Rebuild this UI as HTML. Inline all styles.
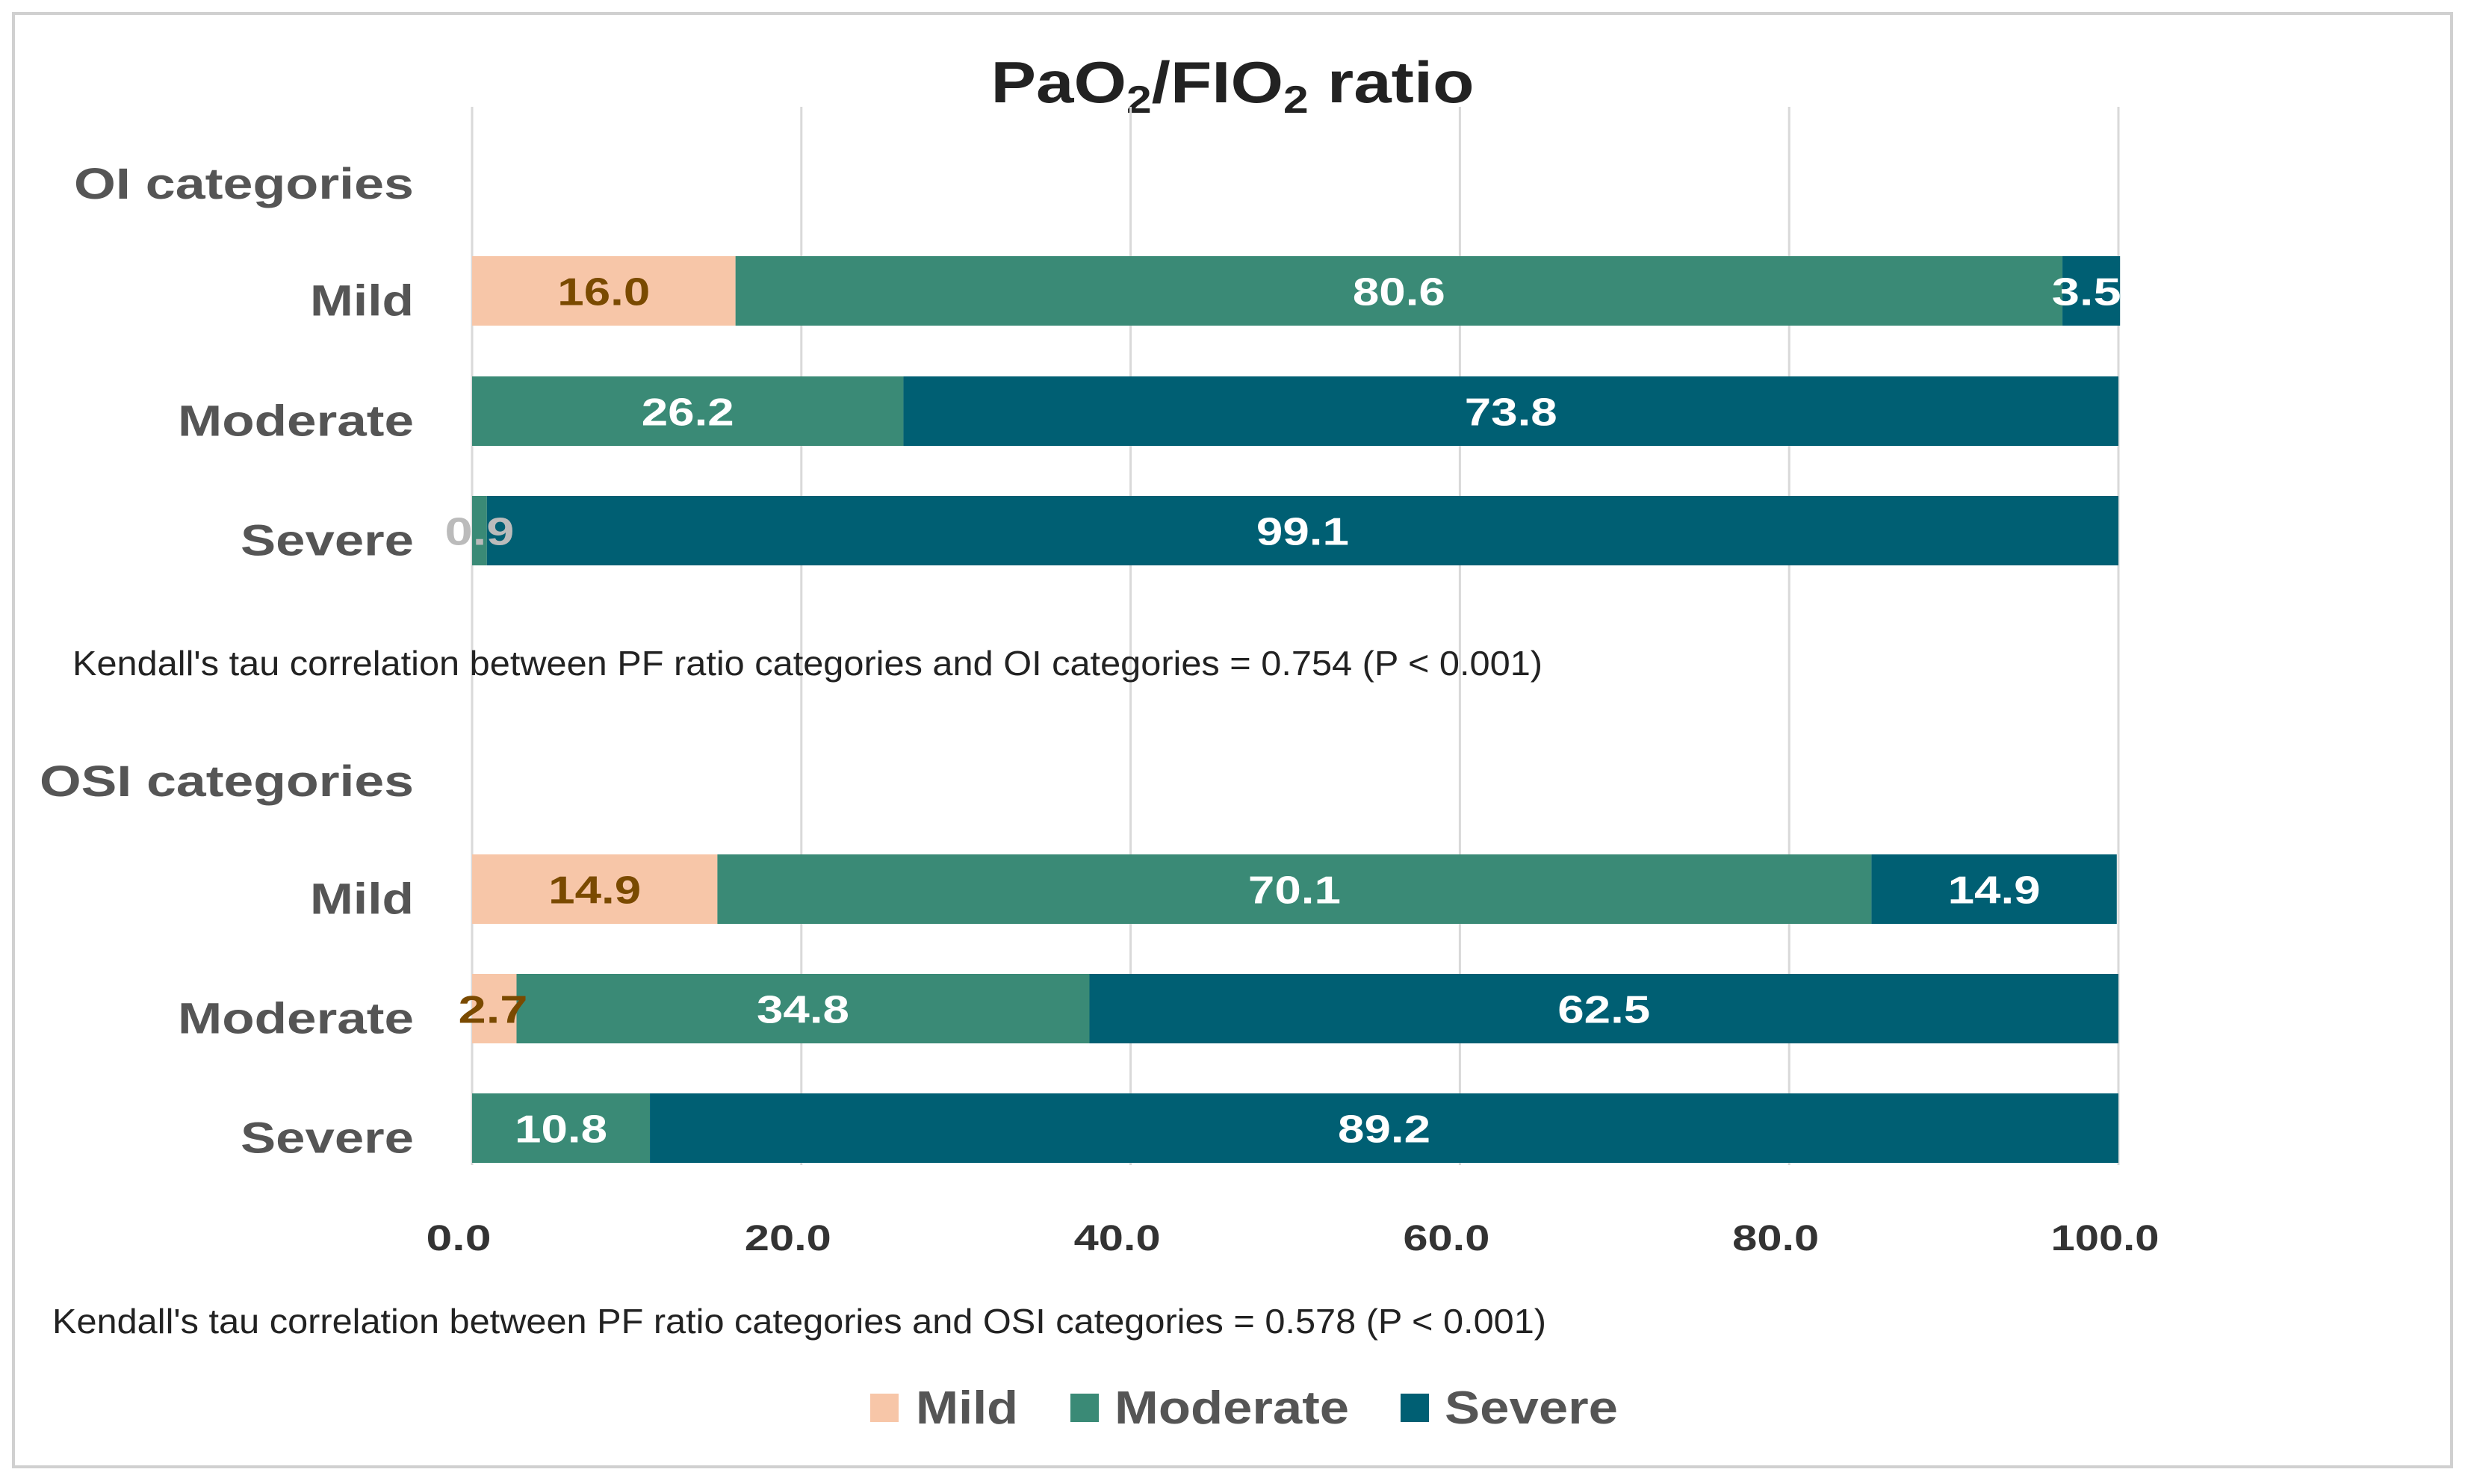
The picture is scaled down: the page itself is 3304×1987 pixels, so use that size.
<!DOCTYPE html>
<html><head><meta charset="utf-8"><style>
html,body{margin:0;padding:0;background:#fff;}
body{width:3304px;height:1982px;position:relative;overflow:hidden;font-family:"Liberation Sans",Arial,sans-serif;}
</style></head><body>
<svg id="chart" width="3304" height="1982" xmlns="http://www.w3.org/2000/svg" font-family="Liberation Sans, Arial, sans-serif">
<rect x="18" y="18" width="3264" height="1946" fill="#fff" stroke="#d0d0d0" stroke-width="4"/>
<text x="1650" y="137" text-anchor="middle" font-size="78" font-weight="bold" fill="#222" textLength="647" lengthAdjust="spacingAndGlyphs">PaO<tspan font-size="52" dy="14">2</tspan><tspan dy="-14">/FIO</tspan><tspan font-size="52" dy="14">2</tspan><tspan dy="-14"> ratio</tspan></text>
<g id="grid"></g>
<g id="bars"></g>
<g id="labels"></g>
<text x="554" y="266" text-anchor="end" font-size="58" font-weight="bold" fill="#555" textLength="455" lengthAdjust="spacingAndGlyphs">OI categories</text>
<text x="554" y="1066" text-anchor="end" font-size="58" font-weight="bold" fill="#555" textLength="501" lengthAdjust="spacingAndGlyphs">OSI categories</text>
<text x="97" y="904" font-size="46" fill="#222" textLength="1968" lengthAdjust="spacingAndGlyphs">Kendall's  tau correlation between  PF ratio categories and OI categories = 0.754 (P &lt; 0.001)</text>
<text x="70" y="1785" font-size="46" fill="#222" textLength="2000" lengthAdjust="spacingAndGlyphs">Kendall's  tau correlation between  PF ratio categories and OSI categories = 0.578 (P &lt; 0.001)</text>
<g>
<rect x="1165" y="1866" width="38" height="38" fill="#f7c6a8"/>
<text x="1226" y="1906" font-size="62" font-weight="bold" fill="#555" textLength="137" lengthAdjust="spacingAndGlyphs">Mild</text>
<rect x="1433" y="1866" width="38" height="38" fill="#3a8a76"/>
<text x="1492" y="1906" font-size="62" font-weight="bold" fill="#555" textLength="314" lengthAdjust="spacingAndGlyphs">Moderate</text>
<rect x="1875" y="1866" width="38" height="38" fill="#005f73"/>
<text x="1934" y="1906" font-size="62" font-weight="bold" fill="#555" textLength="232" lengthAdjust="spacingAndGlyphs">Severe</text>
</g>
</svg>
<script>
const categories = ["Mild","Moderate","Severe","Mild","Moderate","Severe"];
const mildValues = [16.0, 0, 0, 14.9, 2.7, 0];
const moderateValues = [80.6, 26.2, 0.9, 70.1, 34.8, 10.8];
const severeValues = [3.5, 73.8, 99.1, 14.9, 62.5, 89.2];
const tickValues = [0, 20, 40, 60, 80, 100];
const tickLabels = ["0.0","20.0","40.0","60.0","80.0","100.0"];

const NS = "http://www.w3.org/2000/svg";
const x0 = 632, x1 = 2836;
const xs = v => x0 + (x1 - x0) * v / 100;
const rowTops = [343, 504, 664, 1144, 1304, 1464];
const barH = 93;
const catWidths = {Mild:139, Moderate:316, Severe:232};
function mk(tag, attrs, parent){const e=document.createElementNS(NS,tag);for(const k in attrs)e.setAttribute(k,attrs[k]);parent.appendChild(e);return e;}
const grid=document.getElementById('grid'), bars=document.getElementById('bars'), labels=document.getElementById('labels');
tickValues.forEach((t,i)=>{
  const l=mk('line',{x1:xs(t),x2:xs(t),y1:143,y2:1560,stroke:'#d9d9d9','stroke-width':3},grid);
  
  
  const s=tickLabels[i];
  const tx=mk('text',{x:xs(t)-18,y:1674,'text-anchor':'middle','font-size':48,'font-weight':'bold',fill:'#333',textLength:s.length*29,lengthAdjust:'spacingAndGlyphs'},labels);
  tx.textContent=s;
  
  
});
const series=[{v:mildValues,c:'#f7c6a8',tc:'#7a4a00',n:'mild'},{v:moderateValues,c:'#3a8a76',tc:'#fff',n:'moderate'},{v:severeValues,c:'#005f73',tc:'#fff',n:'severe'}];
categories.forEach((cat,r)=>{
  const y=rowTops[r];
  const cl=mk('text',{x:554,y:y+barH/2+33,'text-anchor':'end','font-size':58,'font-weight':'bold',fill:'#555',textLength:catWidths[cat],lengthAdjust:'spacingAndGlyphs'},labels);
  cl.textContent=cat;
  
  
  let acc=0;
  series.forEach(s=>{
    const v=s.v[r];
    if(v<=0)return;
    const rc=mk('rect',{x:xs(acc),y:y,width:xs(acc+v)-xs(acc),height:barH,fill:s.c},bars);
    
    
    let cx=(xs(acc)+xs(acc+v))/2;
    let col=s.tc;
    if(v<2){cx=xs(acc)+10;col='#bbb';}
    else if(v<4){cx=s.n==='severe'?xs(acc+v)-45:xs(acc)+28;}
    const txt=v.toFixed(1);
    const t=mk('text',{x:cx,y:y+barH/2+19,'text-anchor':'middle','font-size':52,'font-weight':'bold',fill:col,textLength:txt.length*31,lengthAdjust:'spacingAndGlyphs'},labels);
    t.textContent=txt;
    
    
    acc+=v;
  });
});
</script>
</body></html>
